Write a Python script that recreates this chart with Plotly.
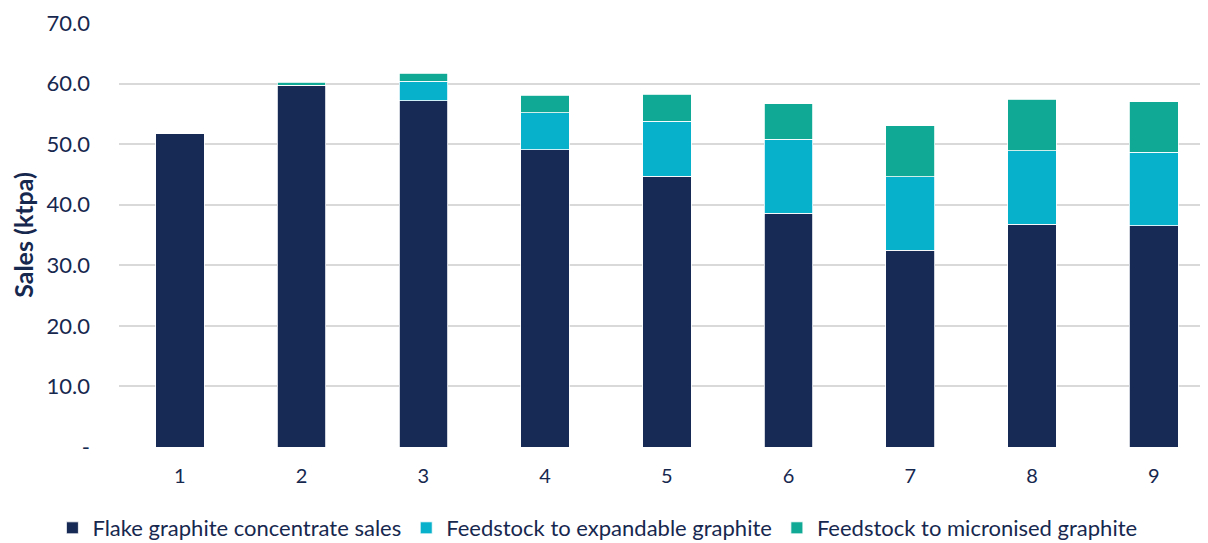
import plotly.graph_objects as go

categories = ["1", "2", "3", "4", "5", "6", "7", "8", "9"]
flake = [51.8, 59.7, 57.2, 49.1, 44.7, 38.6, 32.5, 36.8, 36.5]
expandable = [0, 0, 3.2, 6.1, 9.1, 12.2, 12.1, 12.1, 12.2]
micronised = [0, 0.5, 1.3, 2.9, 4.4, 5.9, 8.4, 8.5, 8.3]
series_names = ["Flake graphite concentrate sales", "Feedstock to expandable graphite",
                "Feedstock to micronised graphite"]
y_tickvals = [0, 10, 20, 30, 40, 50, 60, 70]
y_ticktext = ["-", "10.0", "20.0", "30.0", "40.0", "50.0", "60.0", "70.0"]

colors = ["#172A55", "#08B1CB", "#10A996"]
navy = "#17284F"
font = "Lato"

x_pos = list(range(1, len(categories) + 1))
fig = go.Figure()
for name, vals, c in zip(series_names, [flake, expandable, micronised], colors):
    fig.add_trace(go.Bar(x=x_pos, y=vals, name=name, marker_color=c,
                         marker_line=dict(color="white", width=0.8), width=0.4))

fig.update_layout(
    barmode="stack",
    width=1200, height=535,
    margin=dict(l=111, r=0, t=15, b=96, autoexpand=False),
    paper_bgcolor="white", plot_bgcolor="white",
    font=dict(family=font, color=navy, size=20),
    legend=dict(orientation="h", x=0.037, xref="container", xanchor="left",
                y=0.028, yref="container", yanchor="middle",
                font=dict(size=22, color=navy, family=font), itemwidth=30,
                traceorder="normal"),
    showlegend=True,
)
fig.update_xaxes(range=[0.5, 9.445], tickvals=x_pos, ticktext=categories,
                 showgrid=False, zeroline=False, ticks="", showline=False, automargin=False,
                 tickfont=dict(size=20, color=navy, family=font), ticklabelstandoff=15)
fig.update_yaxes(range=[0, 70], tickvals=y_tickvals, ticktext=y_ticktext, automargin=False,
                 showgrid=True, gridcolor="#D9D9D9", gridwidth=1.5, zeroline=False,
                 tickfont=dict(size=22, color=navy, family=font), ticklabelstandoff=28,
                 title=dict(text="<b>Sales (ktpa)</b>", font=dict(size=25, color=navy, family=font),
                            standoff=12))
fig.write_html("out.html")
